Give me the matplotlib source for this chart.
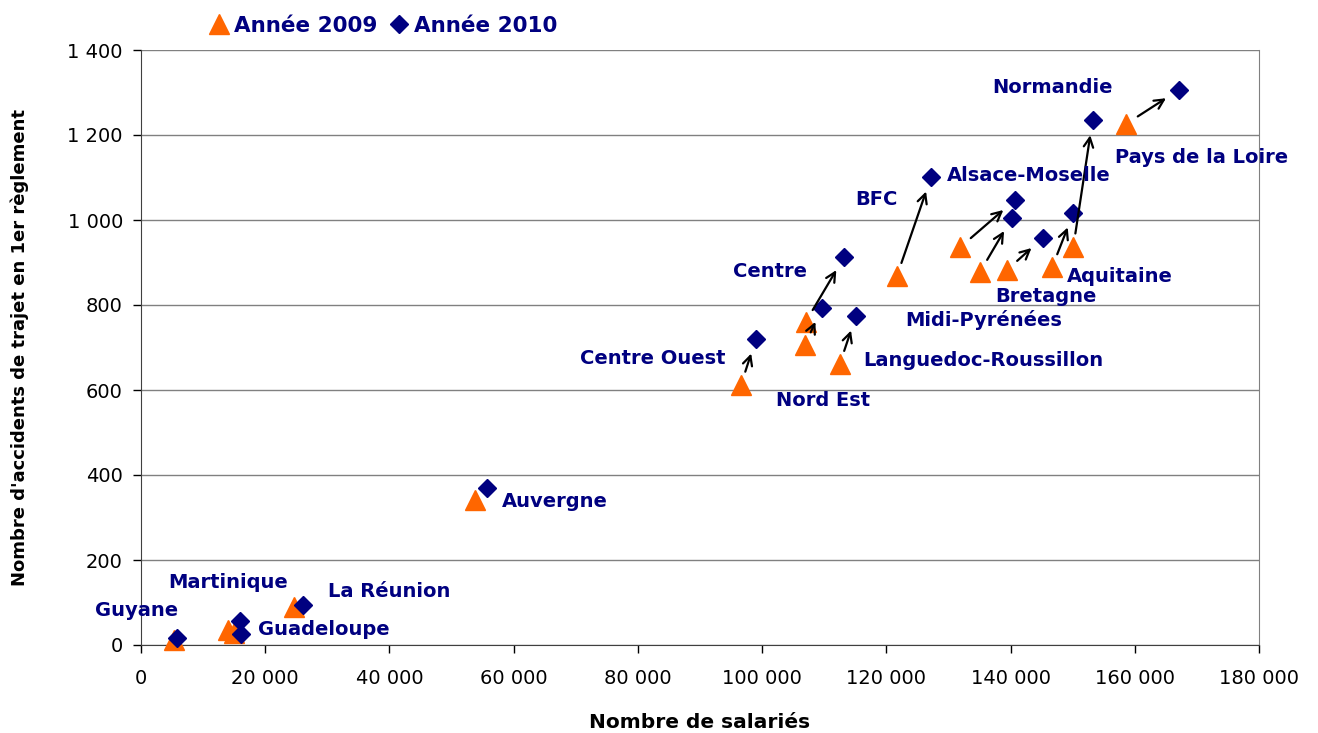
import matplotlib
matplotlib.use("Agg")
import matplotlib.pyplot as plt
from matplotlib.ticker import FuncFormatter

plt.rcParams["font.family"] = ["DejaVu Sans"]

# data
regions = ["Guyane", "Martinique", "Guadeloupe", "La Réunion", "Auvergne",
           "Centre Ouest", "Centre", "Nord Est", "Languedoc-Roussillon", "BFC",
           "Alsace-Moselle", "Midi-Pyrénées", "Bretagne", "Aquitaine",
           "Normandie", "Pays de la Loire"]
salaries_2009 = [5300, 14000, 15000, 24600, 53800, 96600, 107000, 106900,
                 112500, 121700, 131900, 135100, 139400, 146700, 150100, 158600]
accidents_2009 = [12, 35, 28, 89, 341, 612, 760, 706, 661, 868, 936, 878,
                  882, 889, 936, 1226]
salaries_2010 = [5800, 15900, 16100, 26100, 55700, 99000, 113200, 109600,
                 115100, 127200, 140700, 140200, 145200, 150100, 153200, 167100]
accidents_2010 = [16, 56, 26, 94, 369, 720, 913, 793, 774, 1101, 1047, 1005,
                  958, 1016, 1235, 1306]
with_arrow = ["Centre Ouest", "Centre", "Nord Est", "Languedoc-Roussillon",
              "BFC", "Alsace-Moselle", "Midi-Pyrénées", "Bretagne", "Aquitaine",
              "Normandie", "Pays de la Loire"]

# label offsets in pixels from the 2010 point (dx, dy, ha)
label_pos = {
    "Guyane": (-82, 28, "left"),
    "Martinique": (-72, 39, "left"),
    "Guadeloupe": (17, 4, "left"),
    "La Réunion": (25, 14, "left"),
    "Auvergne": (15, -13, "left"),
    "Centre Ouest": (-30, -20, "right"),
    "Centre": (-111, -15, "left"),
    "Nord Est": (-46, -93, "left"),
    "Languedoc-Roussillon": (7, -44, "left"),
    "BFC": (-76, -22, "left"),
    "Alsace-Moselle": (-68, 25, "left"),
    "Midi-Pyrénées": (-107, -102, "left"),
    "Bretagne": (-48, -59, "left"),
    "Aquitaine": (-6, -63, "left"),
    "Normandie": (-100, 33, "left"),
    "Pays de la Loire": (-64, -68, "left"),
}

orange = "#FF6600"
navy = "#000080"

fig = plt.figure(figsize=(13.18, 7.33), dpi=100)
ax = fig.add_axes([141 / 1318, 1 - 645 / 733, 1118 / 1318, 595 / 733])

h09, = ax.plot(salaries_2009, accidents_2009, ls="none", marker="^", ms=14,
               color=orange, label="Année 2009", zorder=3, clip_on=False)
h10, = ax.plot(salaries_2010, accidents_2010, ls="none", marker="D", ms=9,
               color=navy, label="Année 2010", zorder=4, clip_on=False)

for i, name in enumerate(regions):
    if name in with_arrow:
        ax.annotate("", xy=(salaries_2010[i], accidents_2010[i]),
                    xytext=(salaries_2009[i], accidents_2009[i]),
                    arrowprops=dict(arrowstyle="->", color="black", lw=1.6,
                                    shrinkA=10, shrinkB=11,
                                    mutation_scale=17), zorder=5)
    dx, dy, ha = label_pos[name]
    ax.annotate(name, xy=(salaries_2010[i], accidents_2010[i]),
                xytext=(dx, dy), textcoords="offset pixels", ha=ha,
                va="center", color=navy, fontsize=14, fontweight="bold",
                zorder=6)

ax.set_xlim(0, 180000)
ax.set_ylim(0, 1400)
ax.set_xticks(range(0, 180001, 20000))
ax.set_yticks(range(0, 1401, 200))
sep = FuncFormatter(lambda v, p: f"{int(v):,}".replace(",", " "))
ax.xaxis.set_major_formatter(sep)
ax.yaxis.set_major_formatter(sep)
ax.tick_params(labelsize=14, length=6, width=1, direction="out")
ax.tick_params(axis="x", pad=11)
ax.tick_params(axis="y", pad=7)
ax.grid(axis="y", color="#808080", lw=1)
ax.set_axisbelow(True)
ax.spines["top"].set_visible(False)
ax.spines["right"].set_color("#808080")
ax.spines["left"].set_color("#404040")
ax.spines["bottom"].set_color("#404040")

ax.set_xlabel("Nombre de salariés", fontsize=14.5, fontweight="bold", labelpad=18)
ax.set_ylabel("Nombre d'accidents de trajet en 1er règlement", fontsize=13,
              fontweight="bold", labelpad=28)

fig.legend(handles=[h09, h10], loc="center left",
           bbox_to_anchor=(200 / 1318, 1 - 26 / 733), ncol=2, frameon=False,
           prop={"weight": "bold", "size": 15.5}, labelcolor=navy,
           handlelength=0.8, handletextpad=0.3, columnspacing=0.6,
           borderpad=0)

fig.savefig("out.png", dpi=100)
